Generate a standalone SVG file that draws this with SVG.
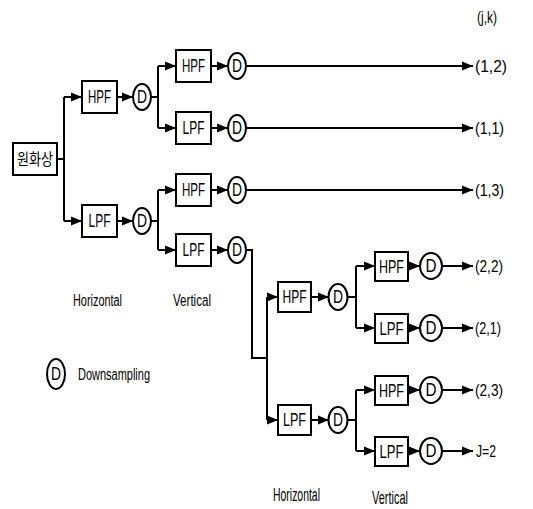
<svg xmlns="http://www.w3.org/2000/svg" width="533" height="509" viewBox="0 0 533 509">
<defs>
<marker id="ah" viewBox="0 0 10 10" refX="10" refY="5" markerWidth="5.5" markerHeight="5.5" orient="auto" markerUnits="strokeWidth">
<path d="M0,1 L10,5 L0,9 Z" fill="#000"/>
</marker>
<style>
.b{fill:#fff;stroke:#000;stroke-width:2}
.c{fill:#fff;stroke:#000;stroke-width:2}
.l{fill:none;stroke:#000;stroke-width:2}
.a{fill:none;stroke:#000;stroke-width:2;marker-end:url(#ah)}
text{font-family:"Liberation Sans Narrow","Liberation Sans",Arial,sans-serif;fill:#000}
.t{font-size:18px;text-anchor:middle;dominant-baseline:central}
.d{font-size:18px;text-anchor:middle;dominant-baseline:central}
.o{font-size:16px;dominant-baseline:central}
.k{font-family:"Liberation Sans","Noto Sans CJK KR",sans-serif;font-size:16px;text-anchor:middle;dominant-baseline:central}
</style>
</defs>
<rect width="533" height="509" fill="#fff"/>
<g id="connectors">
<path class="l" d="M57,159 H64 M64,97 V221"/>
<path class="a" d="M64,97 H82"/>
<path class="a" d="M64,221 H82"/>
<path class="a" d="M117,97 H133"/>
<path class="a" d="M117,221 H133"/>
<path class="l" d="M151,97 H158 M158,66 V128 M151,221 H158 M158,190 V250"/>
<path class="a" d="M158,66 H176"/>
<path class="a" d="M158,128 H176"/>
<path class="a" d="M158,190 H176"/>
<path class="a" d="M158,250 H176"/>
<path class="a" d="M211,66 H228"/>
<path class="a" d="M211,128 H228"/>
<path class="a" d="M211,190 H228"/>
<path class="a" d="M211,250 H228"/>
<path class="a" d="M246,66 H473"/>
<path class="a" d="M246,128 H473"/>
<path class="a" d="M246,190 H473"/>
<path class="l" d="M246,250 H252 V358 H267 M267,297 V420"/>
<path class="a" d="M267,297 H278"/>
<path class="a" d="M267,420 H278"/>
<path class="a" d="M311,297 H329"/>
<path class="a" d="M311,420 H329"/>
<path class="l" d="M347,297 H356 M356,266 V328 M347,420 H356 M356,390 V451"/>
<path class="a" d="M356,266 H375"/>
<path class="a" d="M356,328 H375"/>
<path class="a" d="M356,390 H375"/>
<path class="a" d="M356,451 H375"/>
<path class="a" d="M408,266 H420"/>
<path class="a" d="M408,328 H420"/>
<path class="a" d="M408,390 H420"/>
<path class="a" d="M408,451 H420"/>
<path class="a" d="M442,266 H473"/>
<path class="a" d="M442,328 H473"/>
<path class="a" d="M442,390 H473"/>
<path class="a" d="M442,451 H473"/>
</g>
<g id="root"><rect class="b" x="13" y="143" width="44" height="32"/><text class="k" x="35" y="159" textLength="36" lengthAdjust="spacingAndGlyphs">원화상</text></g>
<g id="hpf1"><rect class="b" x="82" y="81" width="35" height="32"/><text class="t" x="99.5" y="97" textLength="23" lengthAdjust="spacingAndGlyphs">HPF</text></g>
<g id="lpf1"><rect class="b" x="82" y="205" width="35" height="32"/><text class="t" x="99.5" y="221" textLength="22" lengthAdjust="spacingAndGlyphs">LPF</text></g>
<g id="d1"><ellipse class="c" cx="142" cy="97" rx="9" ry="13"/><text class="d" x="142" y="97" textLength="10" lengthAdjust="spacingAndGlyphs">D</text></g>
<g id="d2"><ellipse class="c" cx="142" cy="221" rx="9" ry="13"/><text class="d" x="142" y="221" textLength="10" lengthAdjust="spacingAndGlyphs">D</text></g>
<g id="hpf2"><rect class="b" x="176" y="50" width="35" height="32"/><text class="t" x="193.5" y="66" textLength="23" lengthAdjust="spacingAndGlyphs">HPF</text></g>
<g id="lpf2"><rect class="b" x="176" y="112" width="35" height="32"/><text class="t" x="193.5" y="128" textLength="22" lengthAdjust="spacingAndGlyphs">LPF</text></g>
<g id="hpf3"><rect class="b" x="176" y="174" width="35" height="32"/><text class="t" x="193.5" y="190" textLength="23" lengthAdjust="spacingAndGlyphs">HPF</text></g>
<g id="lpf3"><rect class="b" x="176" y="234" width="35" height="32"/><text class="t" x="193.5" y="250" textLength="22" lengthAdjust="spacingAndGlyphs">LPF</text></g>
<g id="d3"><ellipse class="c" cx="237" cy="66" rx="9" ry="13"/><text class="d" x="237" y="66" textLength="10" lengthAdjust="spacingAndGlyphs">D</text></g>
<g id="d4"><ellipse class="c" cx="237" cy="128" rx="9" ry="13"/><text class="d" x="237" y="128" textLength="10" lengthAdjust="spacingAndGlyphs">D</text></g>
<g id="d5"><ellipse class="c" cx="237" cy="190" rx="9" ry="13"/><text class="d" x="237" y="190" textLength="10" lengthAdjust="spacingAndGlyphs">D</text></g>
<g id="d6"><ellipse class="c" cx="237" cy="250" rx="9" ry="13"/><text class="d" x="237" y="250" textLength="10" lengthAdjust="spacingAndGlyphs">D</text></g>
<g id="hpf4"><rect class="b" x="278" y="282" width="33" height="30"/><text class="t" x="294.5" y="297" textLength="24" lengthAdjust="spacingAndGlyphs">HPF</text></g>
<g id="lpf4"><rect class="b" x="278" y="405" width="33" height="30"/><text class="t" x="294.5" y="420" textLength="23" lengthAdjust="spacingAndGlyphs">LPF</text></g>
<g id="d7"><ellipse class="c" cx="338" cy="297" rx="9.5" ry="13"/><text class="d" x="338" y="297" textLength="10" lengthAdjust="spacingAndGlyphs">D</text></g>
<g id="d8"><ellipse class="c" cx="338" cy="420" rx="9.5" ry="13"/><text class="d" x="338" y="420" textLength="10" lengthAdjust="spacingAndGlyphs">D</text></g>
<g id="hpf5"><rect class="b" x="375" y="252" width="33" height="29"/><text class="t" x="391.5" y="266.5" textLength="25" lengthAdjust="spacingAndGlyphs">HPF</text></g>
<g id="lpf5"><rect class="b" x="375" y="314" width="33" height="29"/><text class="t" x="391.5" y="328.5" textLength="24" lengthAdjust="spacingAndGlyphs">LPF</text></g>
<g id="hpf6"><rect class="b" x="375" y="376" width="33" height="29"/><text class="t" x="391.5" y="390.5" textLength="25" lengthAdjust="spacingAndGlyphs">HPF</text></g>
<g id="lpf6"><rect class="b" x="375" y="437" width="33" height="29"/><text class="t" x="391.5" y="451.5" textLength="24" lengthAdjust="spacingAndGlyphs">LPF</text></g>
<g id="d9"><ellipse class="c" cx="431" cy="266" rx="11" ry="13"/><text class="d" x="431" y="266" textLength="11" lengthAdjust="spacingAndGlyphs">D</text></g>
<g id="d10"><ellipse class="c" cx="431" cy="328" rx="11" ry="13"/><text class="d" x="431" y="328" textLength="11" lengthAdjust="spacingAndGlyphs">D</text></g>
<g id="d11"><ellipse class="c" cx="431" cy="390" rx="11" ry="13"/><text class="d" x="431" y="390" textLength="11" lengthAdjust="spacingAndGlyphs">D</text></g>
<g id="d12"><ellipse class="c" cx="431" cy="451" rx="11" ry="13"/><text class="d" x="431" y="451" textLength="11" lengthAdjust="spacingAndGlyphs">D</text></g>
<g id="labels">
<text class="o" x="477" y="17" textLength="20" lengthAdjust="spacingAndGlyphs">(j,k)</text>
<text class="o" x="475" y="66" textLength="32" lengthAdjust="spacingAndGlyphs">(1,2)</text>
<text class="o" x="475" y="128" textLength="29" lengthAdjust="spacingAndGlyphs">(1,1)</text>
<text class="o" x="475" y="190" textLength="29" lengthAdjust="spacingAndGlyphs">(1,3)</text>
<text class="o" x="475" y="266" textLength="28" lengthAdjust="spacingAndGlyphs">(2,2)</text>
<text class="o" x="475" y="328" textLength="26" lengthAdjust="spacingAndGlyphs">(2,1)</text>
<text class="o" x="475" y="390" textLength="28" lengthAdjust="spacingAndGlyphs">(2,3)</text>
<text class="o" x="476" y="451" textLength="20" lengthAdjust="spacingAndGlyphs">J=2</text>
<text class="o" x="73" y="300" textLength="49" lengthAdjust="spacingAndGlyphs">Horizontal</text>
<text class="o" x="173" y="300" textLength="38" lengthAdjust="spacingAndGlyphs">Vertical</text>
<text class="o" x="78" y="374" textLength="72" lengthAdjust="spacingAndGlyphs">Downsampling</text>
<text class="o" style="font-size:19px" x="273" y="494" textLength="47" lengthAdjust="spacingAndGlyphs">Horizontal</text>
<text class="o" style="font-size:19px" x="372" y="497" textLength="36" lengthAdjust="spacingAndGlyphs">Vertical</text>
</g>
<g id="legend"><ellipse class="c" cx="56" cy="374" rx="9" ry="15"/><text class="d" x="56" y="374" textLength="10" lengthAdjust="spacingAndGlyphs">D</text></g>
</svg>
